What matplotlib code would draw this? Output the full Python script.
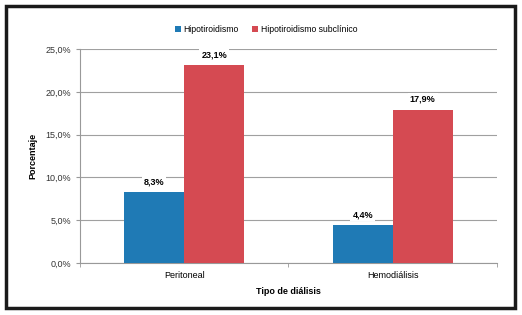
import numpy as np
import matplotlib.pyplot as plt
from matplotlib.patches import Rectangle
from matplotlib.ticker import FuncFormatter

categories = ["Peritoneal", "Hemodiálisis"]
series_names = ["Hipotiroidismo", "Hipotiroidismo subclínico"]
hipo = [8.3, 4.4]
hipo_sub = [23.1, 17.9]
colors = ["#1f7ab5", "#d54a52"]

plt.rcParams["font.family"] = ["Liberation Sans", "DejaVu Sans"]

fig = plt.figure(figsize=(5.22, 3.15), dpi=100)
ax = fig.add_axes([0.153, 0.165, 0.799, 0.679])

# outer frame
fig.patches.append(Rectangle((0.011, 0.022), 0.976, 0.960, transform=fig.transFigure,
                             fill=False, edgecolor="#1a1a1a", linewidth=2.5))

x = np.arange(len(categories))
w = 0.288
series = [hipo, hipo_sub]
for k, vals in enumerate(series):
  pos = x + (k - 0.5) * w
  bars = ax.bar(pos, vals, width=w, color=colors[k], label=series_names[k], zorder=3)
  for b, v in zip(bars, vals):
    ax.text(b.get_x() + b.get_width() / 2, v + 0.7, ("%.1f%%" % v).replace(".", ","),
            ha="center", va="bottom", fontsize=6.5, fontweight="bold", zorder=4,
            bbox=dict(facecolor="white", edgecolor="none", pad=1.5))

ax.set_xlim(-0.5, 1.5)
ax.set_ylim(0, 25)
ax.set_yticks(np.arange(0, 25.1, 5))
ax.yaxis.set_major_formatter(FuncFormatter(lambda v, p: ("%.1f%%" % v).replace(".", ",")))
ax.set_xticks(x)
ax.set_xticklabels(categories)
ax.set_xticks([-0.5, 0.5, 1.5], minor=True)
ax.tick_params(axis="x", which="major", length=0, labelsize=6.5, pad=6)
ax.tick_params(axis="x", which="minor", length=3, color="#999999")
ax.tick_params(axis="y", length=3, color="#999999", labelsize=6.5, labelcolor="#333333")

ax.grid(axis="y", color="#a0a0a0", linewidth=0.8, zorder=0)
for s in ["top", "right"]:
  ax.spines[s].set_visible(False)
for s in ["left", "bottom"]:
  ax.spines[s].set_color("#999999")

ax.set_ylabel("Porcentaje", fontsize=6.5, fontweight="bold", labelpad=6)
ax.set_xlabel("Tipo de diálisis", fontsize=6.5, fontweight="bold", labelpad=5)

ax.legend(loc="upper center", bbox_to_anchor=(0.446, 1.15), ncol=2, frameon=False,
          fontsize=6.2, handlelength=0.7, handleheight=0.7, handletextpad=0.3,
          columnspacing=1.6)

fig.savefig("out.png", dpi=100)
